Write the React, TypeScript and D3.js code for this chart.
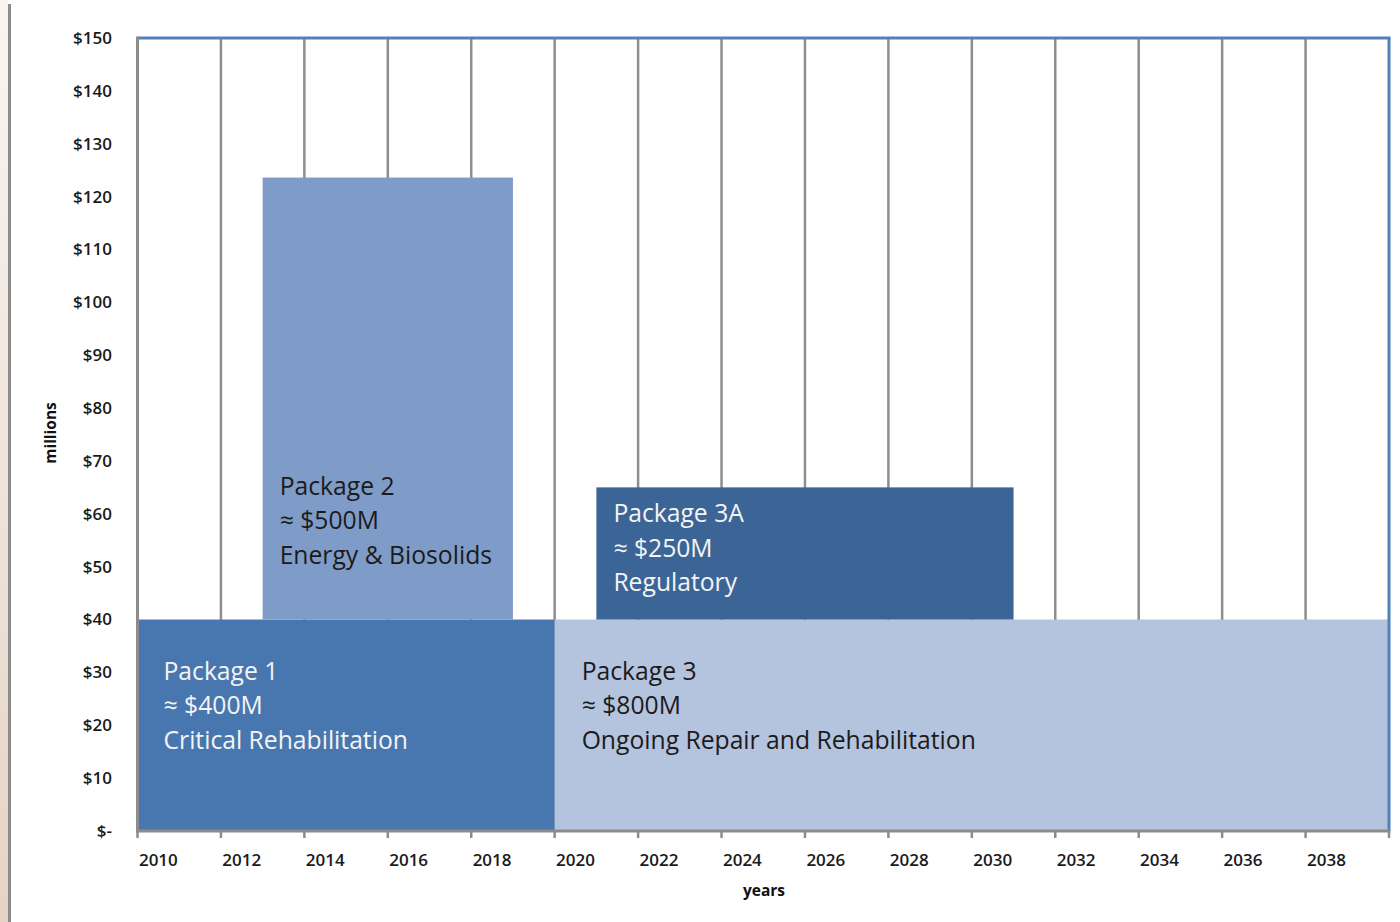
import * as d3 from 'd3'

// programme packages, per-year spend in $ millions
const packageNames = ['Package 1', 'Package 2', 'Package 3', 'Package 3A']
const packageTotals = ['≈ $400M', '≈ $500M', '≈ $800M', '≈ $250M']
const packageScopes = ['Critical Rehabilitation', 'Energy & Biosolids', 'Ongoing Repair and Rehabilitation', 'Regulatory']
const packageStart = [2010, 2013, 2020, 2021]
const packageEnd = [2020, 2019, 2040, 2031]
const packageBase = [0, 40, 0, 40]
const packageTop = [40, 123.6, 40, 65]

const yTicks = [0, 10, 20, 30, 40, 50, 60, 70, 80, 90, 100, 110, 120, 130, 140, 150]
const yearLabels = [2010, 2012, 2014, 2016, 2018, 2020, 2022, 2024, 2026, 2028, 2030, 2032, 2034, 2036, 2038]

const fills = ['#4877b0', '#7f9cc8', '#b4c3de', '#3c6597']
const textFills = ['#f4f4f4', '#1b1b1b', '#1b1b1b', '#f4f4f4']
// where each text block sits relative to its box corner (px)
const labelOffsets = [
  { dx: 26, dy: 60 },
  { dx: 17, dy: 317 },
  { dx: 27, dy: 60 },
  { dx: 17, dy: 35 },
]

const W = 1400
const H = 922
const font = '"Open Sans", "DejaVu Sans", sans-serif'

export default function App() {
  const x = d3.scaleLinear().domain([2010, 2040]).range([137.5, 1389])
  const y = d3.scaleLinear().domain([0, 150]).range([831, 38])
  const gridYears = d3.range(2012, 2040, 2)
  const tickYears = d3.range(2010, 2041, 2)
  const lineGap = 34.5

  return (
    <svg width={W} height={H} style={{ position: 'absolute', left: 0, top: 0, display: 'block' }}>
      <defs>
        <linearGradient id="edge" x1="0" y1="0" x2="0" y2="1">
          <stop offset="0" stopColor="#f8f5f2" />
          <stop offset="0.5" stopColor="#efe4db" />
          <stop offset="1" stopColor="#e6d3c4" />
        </linearGradient>
      </defs>
      <rect x={0} y={0} width={W} height={H} fill="#ffffff" />
      <rect x={0} y={0} width={8} height={H} fill="url(#edge)" />
      <line x1={9.5} x2={9.5} y1={4} y2={H} stroke="#8c8c8c" strokeWidth={3} />

      {/* vertical gridlines */}
      {gridYears.map(yr => (
        <line key={yr} x1={x(yr)} x2={x(yr)} y1={y(150)} y2={y(0)} stroke="#8e8e8e" strokeWidth={2.5} />
      ))}

      {/* package boxes */}
      {packageNames.map((name, i) => (
        <rect
          key={name}
          x={x(packageStart[i])}
          y={y(packageTop[i])}
          width={x(packageEnd[i]) - x(packageStart[i])}
          height={y(packageBase[i]) - y(packageTop[i])}
          fill={fills[i]}
        />
      ))}

      {/* package labels */}
      {packageNames.map((name, i) => {
        const lx = x(packageStart[i]) + labelOffsets[i].dx
        const ly = y(packageTop[i]) + labelOffsets[i].dy
        return (
          <text key={name} x={lx} y={ly} fill={textFills[i]} fontFamily={font} fontSize={24.7}>
            <tspan x={lx}>{name}</tspan>
            <tspan x={lx} dy={lineGap}>{packageTotals[i]}</tspan>
            <tspan x={lx} dy={lineGap}>{packageScopes[i]}</tspan>
          </text>
        )
      })}

      {/* plot frame */}
      <line x1={x(2010)} x2={x(2040) + 1.5} y1={y(150)} y2={y(150)} stroke="#4f81bd" strokeWidth={3} />
      <line x1={x(2040)} x2={x(2040)} y1={y(150)} y2={y(0)} stroke="#4f81bd" strokeWidth={3} />
      <line x1={x(2010)} x2={x(2010)} y1={y(150) - 1.5} y2={y(0) + 1.5} stroke="#8c8c8c" strokeWidth={3} />
      <line x1={x(2010)} x2={x(2040) + 1.5} y1={y(0)} y2={y(0)} stroke="#8c8c8c" strokeWidth={3} />
      {tickYears.map(yr => (
        <line key={yr} x1={x(yr)} x2={x(yr)} y1={y(0)} y2={y(0) + 7} stroke="#8c8c8c" strokeWidth={2.5} />
      ))}

      {/* y axis labels */}
      {yTicks.map(v => (
        <text key={v} x={112} y={y(v)} dy="0.35em" textAnchor="end" fontFamily={font} fontSize={17} fontWeight={600} fill="#1a1a1a">
          {v === 0 ? '$-' : `$${v}`}
        </text>
      ))}

      {/* x axis labels, centred in their year slot */}
      {yearLabels.map(yr => (
        <text key={yr} x={x(yr + 0.5)} y={866} textAnchor="middle" fontFamily={font} fontSize={17} fontWeight={600} fill="#1a1a1a">
          {yr}
        </text>
      ))}

      <text x={764} y={896} textAnchor="middle" fontFamily={font} fontSize={15.5} fontWeight={700} fill="#111">years</text>
      <text transform="translate(56,433) rotate(-90)" textAnchor="middle" fontFamily={font} fontSize={15.5} fontWeight={700} fill="#111">millions</text>
    </svg>
  )
}
